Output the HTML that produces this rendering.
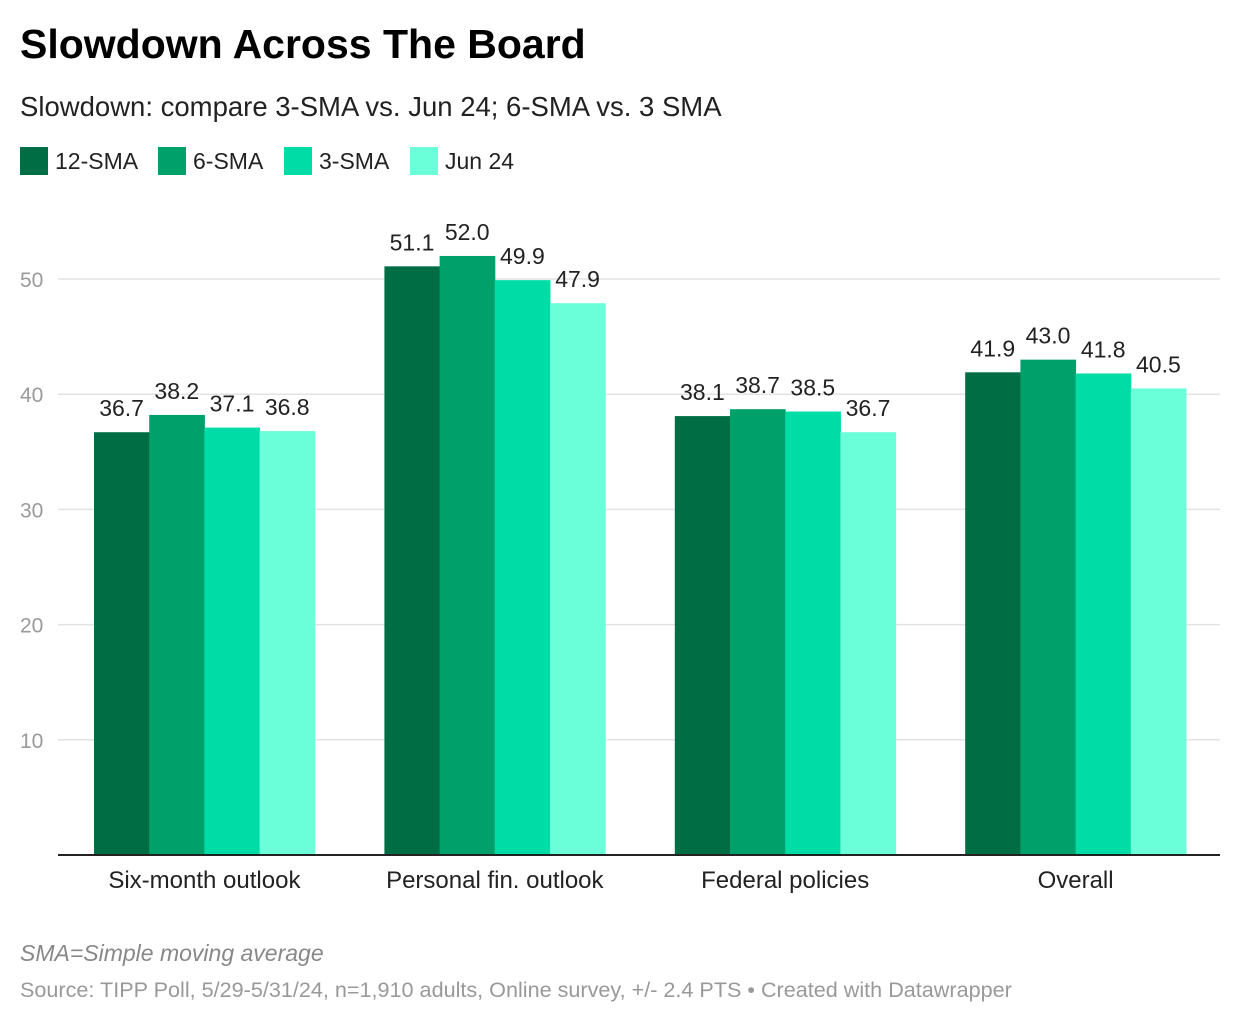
<!DOCTYPE html>
<html><head><meta charset="utf-8">
<style>
body{margin:0;background:#fff;font-family:"Liberation Sans",Roboto,sans-serif;}
#wrap{position:relative;width:1240px;height:1026px;overflow:hidden;}
.t{position:absolute;white-space:nowrap;}
</style></head>
<body>
<div id="wrap">
<div class="t" style="left:20px;top:21px;font-size:41px;font-weight:bold;color:#000;">Slowdown Across The Board</div>
<div class="t" style="left:20px;top:91px;font-size:27.5px;color:#222;">Slowdown: compare 3-SMA vs. Jun 24; 6-SMA vs. 3 SMA</div>
<div id="legend"></div>
<svg id="chart" width="1240" height="1026" style="position:absolute;left:0;top:0;font-family:'Liberation Sans',sans-serif;"></svg>
<div class="t" style="left:20px;top:940px;font-size:23px;font-style:italic;color:#888;">SMA=Simple moving average</div>
<div class="t" style="left:20px;top:977px;font-size:21.6px;color:#999;">Source: TIPP Poll, 5/29-5/31/24, n=1,910 adults, Online survey, +/- 2.4 PTS • Created with Datawrapper</div>
</div>
<script>
const categories=["Six-month outlook","Personal fin. outlook","Federal policies","Overall"];
const seriesNames=["12-SMA","6-SMA","3-SMA","Jun 24"];
const sma12=[36.7,51.1,38.1,41.9];
const sma6=[38.2,52.0,38.7,43.0];
const sma3=[37.1,49.9,38.5,41.8];
const jun24=[36.8,47.9,36.7,40.5];
const yTicks=[10,20,30,40,50];
const colors=["#006d45","#00a06b","#00dca6","#6affd9"];
const series=[sma12,sma6,sma3,jun24];
const NS="http://www.w3.org/2000/svg";
const svg=document.getElementById('chart');
const y0=855, pxPer=11.52, left=58, right=1220;
const y=v=>y0-v*pxPer;
const gx=i=>94+i*290.4, bw=55.2;
function el(t,a){const e=document.createElementNS(NS,t);for(const k in a)e.setAttribute(k,a[k]);svg.appendChild(e);return e;}
yTicks.forEach(t=>{
 const g=el('line',{x1:left,x2:right,y1:y(t),y2:y(t),stroke:'#e3e3e3','stroke-width':1.5});
 
 
 const tx=el('text',{x:20,y:y(t)+8,'font-size':21,fill:'#9a9a9a'});tx.textContent=t;
 
 
});
categories.forEach((c,i)=>{
 series.forEach((s,j)=>{
  const x=gx(i)+j*bw;
  const r=el('rect',{x:x,y:y(s[i]),width:bw+0.5,height:s[i]*pxPer,fill:colors[j]});
  
  
  const t=el('text',{x:x+bw/2,y:y(s[i])-16,'font-size':23,fill:'#222','text-anchor':'middle'});t.textContent=s[i].toFixed(1);
  
  
 });
 const ct=el('text',{x:gx(i)+2*bw,y:888,'font-size':24,fill:'#222','text-anchor':'middle'});ct.textContent=c;
 
 
});
const ax=el('line',{x1:left,x2:right,y1:y0,y2:y0,stroke:'#222','stroke-width':2});


const lg=document.getElementById('legend');
const lx=[20,158,284,410];
seriesNames.forEach((n,j)=>{
 const d=document.createElement('div');
 d.className='t';d.style.cssText=`left:${lx[j]}px;top:147px;font-size:23px;color:#222;display:flex;align-items:center;`;
 d.innerHTML=`<span style="display:inline-block;width:28px;height:28px;background:${colors[j]};margin-right:7px"></span>${n}`;
 
 
 lg.appendChild(d);
});
</script>
</body></html>
